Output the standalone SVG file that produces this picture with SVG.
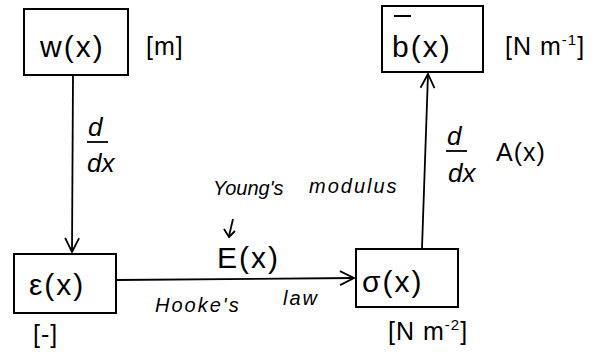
<svg xmlns="http://www.w3.org/2000/svg" width="601" height="352" viewBox="0 0 601 352">
  <style>
    .box { fill: none; stroke: #000; stroke-width: 2; }
    .edge { fill: none; stroke: #000; stroke-width: 1.8; }
    .t { font-family: "Liberation Sans", "DejaVu Sans", sans-serif; fill: #000; }
    .lbl { font-size: 30px; letter-spacing: 2px; }
    .unit { font-size: 25px; letter-spacing: 1px; }
    .note { font-size: 20px; font-style: italic; }
    .frac { font-size: 26px; font-style: italic; }
  </style>
  <defs>
    <marker id="arrow" viewBox="0 0 16 16" refX="15" refY="8" markerWidth="16" markerHeight="16" markerUnits="userSpaceOnUse" orient="auto">
      <path d="M1 1 L15 8 L1 15" fill="none" stroke="#000" stroke-width="1.8"/>
    </marker>
  </defs>

  <rect width="601" height="352" fill="#fff"/>

  <!-- connectors -->
  <g id="connectors">
    <path class="edge" d="M73 75 L72 252" marker-end="url(#arrow)"/>
    <path class="edge" d="M117 280 L354 278" marker-end="url(#arrow)"/>
    <path class="edge" d="M422 248 L428 74" marker-end="url(#arrow)"/>
    <!-- pointer from the note to E(x) -->
    <path class="edge" d="M233 219 L229 236" stroke-width="1.4"/>
    <path class="edge" d="M224 229 L229 237 L235 231" stroke-width="1.4"/>
  </g>

  <!-- displacement -->
  <g id="node-w">
    <rect class="box" x="24" y="9" width="104" height="66"/>
    <text class="t lbl" x="40" y="57">w(x)</text>
    <text class="t unit" x="146" y="55">[m]</text>
  </g>

  <!-- strain -->
  <g id="node-eps">
    <rect class="box" x="14" y="254" width="102" height="59"/>
    <text class="t lbl" x="29" y="295">ε(x)</text>
    <text class="t unit" x="33" y="343" font-size="22">[-]</text>
  </g>

  <!-- stress -->
  <g id="node-sigma">
    <rect class="box" x="356" y="249" width="102" height="58"/>
    <text class="t lbl" x="362" y="292">σ(x)</text>
    <text class="t unit" x="388" y="340">[N m<tspan font-size="15" dy="-10">-2</tspan><tspan dy="10">]</tspan></text>
  </g>

  <!-- body force -->
  <g id="node-b">
    <rect class="box" x="382" y="6" width="101" height="66"/>
    <text class="t lbl" x="392" y="57">b(x)</text>
    <line x1="394" y1="16" x2="411" y2="16" stroke="#000" stroke-width="2"/>
    <text class="t unit" x="505" y="55">[N m<tspan font-size="15" dy="-10">-1</tspan><tspan dy="10">]</tspan></text>
  </g>

  <!-- edge labels -->
  <g id="labels">
    <text class="t frac" x="88" y="136">d</text>
    <line x1="87" y1="142" x2="108" y2="142" stroke="#000" stroke-width="1.8"/>
    <text class="t frac" x="87" y="172">dx</text>

    <text class="t frac" x="447" y="145">d</text>
    <line x1="446" y1="151" x2="467" y2="151" stroke="#000" stroke-width="1.8"/>
    <text class="t frac" x="448" y="182">dx</text>
    <text class="t unit" x="496" y="161">A(x)</text>

    <text class="t note" x="213" y="195">Young's</text>
    <text class="t note" x="309" y="193" letter-spacing="2">modulus</text>
    <text class="t lbl" x="217" y="268">E(x)</text>
    <text class="t note" x="155" y="312" letter-spacing="2">Hooke's</text>
    <text class="t note" x="283" y="305" letter-spacing="2">law</text>
  </g>
</svg>
